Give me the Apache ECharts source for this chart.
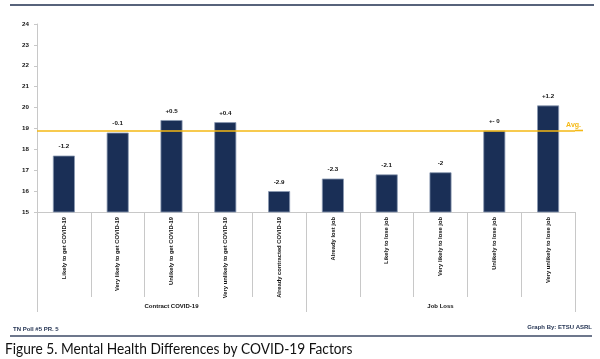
<!DOCTYPE html>
<html><head><meta charset="utf-8">
<script src="https://cdn.jsdelivr.net/npm/echarts@6/dist/echarts.min.js"></script>
<style>html,body{margin:0;padding:0;background:#fff}#c{width:600px;height:359px}</style>
</head><body><div id="c"></div>
<script>
const categories = ['Likely to get COVID-19','Very likely to get COVID-19','Unlikely to get COVID-19','Very unlikely to get COVID-19','Already contracted COVID-19','Already lost job','Likely to lose job','Very likely to lose job','Unlikely to lose job','Very unlikely to lose job'];
const groups = ['Contract COVID-19','Job Loss'];
const values = [17.7,18.8,19.4,19.3,16.0,16.6,16.8,16.9,18.9,20.1];
const diffLabels = ['-1.2','-0.1','+0.5','+0.4','-2.9','-2.3','-2.1','-2','+- 0','+1.2'];
const avgValue = 18.9;
const yTicks = [15,16,17,18,19,20,21,22,23,24];

const chart = echarts.init(document.getElementById('c'));
const fontBase = {fontFamily:'Liberation Sans', fontWeight:'bold', color:'#111'};
chart.setOption({
  animation:false,
  grid:{left:37,right:25,top:24,bottom:147},
  xAxis:[{
    type:'category', data:categories, position:'bottom',
    axisLine:{lineStyle:{color:'#c8c8c8'}},
    axisTick:{show:true,interval:0,length:85,lineStyle:{color:'#c8c8c8'}},
    axisLabel:{interval:0,rotate:90,margin:5,fontSize:5.8,...fontBase}
  },{
    type:'category', data:groups, position:'bottom',
    axisLine:{show:false},
    axisTick:{show:true,interval:0,length:100,lineStyle:{color:'#c8c8c8'}},
    axisLabel:{interval:0,margin:91,fontSize:6,...fontBase}
  }],
  yAxis:{
    type:'value', min:yTicks[0], max:yTicks[yTicks.length-1], interval:1,
    splitLine:{show:false},
    axisLine:{show:true,lineStyle:{color:'#c8c8c8'}},
    axisTick:{show:true,length:3,lineStyle:{color:'#c8c8c8'}},
    axisLabel:{margin:8,fontSize:6.2,...fontBase}
  },
  series:[{
    type:'bar', data:values, barWidth:22, xAxisIndex:0,
    itemStyle:{color:'#1a2f56',borderColor:'#8c9ab3',borderWidth:0.8},
    label:{show:true,position:'top',distance:6,fontSize:6.2,...fontBase,
      formatter:p=>diffLabels[p.dataIndex]},
    markLine:{silent:true,symbol:'none',
      lineStyle:{color:'#f5b914',width:1.6,type:'solid'},
      label:{position:'insideEndTop',formatter:'Avg.',color:'#f5b914',fontSize:7,fontWeight:'bold',fontFamily:'Liberation Sans',distance:[-6,2]},
      data:[{yAxis:avgValue}]}
  }],
  graphic:[
    {type:'line',shape:{x1:575,y1:130.5,x2:583,y2:130.5},style:{stroke:'#f5b914',lineWidth:1.6}},
    {type:'line',shape:{x1:10,y1:5,x2:594,y2:5},style:{stroke:'#1f2f4f',lineWidth:1.5}},
    {type:'line',shape:{x1:10,y1:336,x2:592,y2:336},style:{stroke:'#3c4a66',lineWidth:1.5}},
    {type:'text',left:13,top:326,style:{text:'TN Poll #5 PR. 5',fontSize:6,fontWeight:'bold',fill:'#1f2f4f',fontFamily:'Liberation Sans'}},
    {type:'text',right:8,top:324,style:{text:'Graph By: ETSU ASRL',fontSize:6,fontWeight:'bold',fill:'#1f2f4f',fontFamily:'Liberation Sans'}},
    {type:'text',x:5,y:341,scaleX:0.885,style:{text:'Figure 5. Mental Health Differences by COVID-19 Factors',fontSize:15.5,fill:'#111',fontFamily:'Lato'}}
  ]
});
</script></body></html>
